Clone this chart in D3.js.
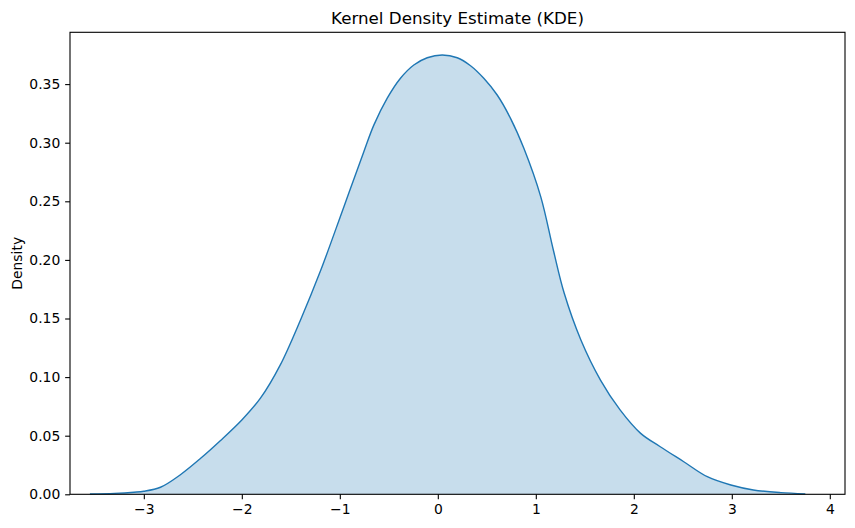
<!DOCTYPE html>
<html><head><meta charset="utf-8">
<script src="https://cdn.jsdelivr.net/npm/d3@7"></script>
<style>body{margin:0;background:#fff}svg{display:block}text{font-family:"DejaVu Sans",sans-serif;fill:#000}</style>
</head><body>
<svg id="c" width="855" height="528"></svg>
<script>
const xValues = [-3.55,-3.3,-3.1,-3.0,-2.83,-2.63,-2.42,-2.22,-2.0,-1.81,-1.61,-1.40,-1.20,-0.96,-0.755,-0.653,-0.516,-0.381,-0.245,-0.108,0.045,0.198,0.334,0.469,0.606,0.742,0.878,1.05,1.18,1.29,1.46,1.66,1.86,2.07,2.27,2.51,2.75,2.99,3.22,3.50,3.75];
const densityValues = [0.0002,0.0008,0.0018,0.0026,0.006,0.0165,0.0307,0.0457,0.0634,0.082,0.110,0.149,0.190,0.245,0.2923,0.315,0.338,0.355,0.3663,0.3725,0.3748,0.3725,0.3657,0.355,0.3407,0.3208,0.2952,0.254,0.208,0.1715,0.1317,0.0975,0.072,0.052,0.0406,0.0278,0.015,0.0079,0.0037,0.0014,0.0004];
const xTicks = [-3,-2,-1,0,1,2,3,4];
const yTicks = [0,0.05,0.10,0.15,0.20,0.25,0.30,0.35];
const titleText = "Kernel Density Estimate (KDE)";
const yLabel = "Density";

const data = xValues.map((x,i)=>({x, y: densityValues[i]}));
const L=70, R=845, T=32.3, B=494.3;
const x = d3.scaleLinear().domain([-3.7533, 4.1551]).range([L,R]);
const y = d3.scaleLinear().domain([0, 0.39420]).range([B,T]);
const svg = d3.select("#c");
const color = "#1f77b4";
const curve = d3.curveCatmullRom.alpha(0.5);

const area = d3.area().x(d=>x(d.x)).y0(y(0)).y1(d=>y(d.y)).curve(curve);
const line = d3.line().x(d=>x(d.x)).y(d=>y(d.y)).curve(curve);
svg.append("path").datum(data).attr("d",area).attr("fill",color).attr("fill-opacity",0.25);
svg.append("path").datum(data).attr("d",line).attr("fill","none").attr("stroke",color).attr("stroke-width",1.4);

const fs = "13.9px";
const xAxis = svg.append("g").attr("transform",`translate(0,${B})`)
  .call(d3.axisBottom(x).tickValues(xTicks).tickFormat(d3.format("d")).tickSizeInner(4.86).tickSizeOuter(0).tickPadding(4.86));
const yAxis = svg.append("g").attr("transform",`translate(${L},0)`)
  .call(d3.axisLeft(y).tickValues(yTicks).tickFormat(d3.format(".2f")).tickSizeInner(4.86).tickSizeOuter(0).tickPadding(4.86));
[xAxis,yAxis].forEach(g=>{
  g.select(".domain").remove();
  g.selectAll(".tick line").attr("stroke","#000").attr("stroke-width",1.1);
  g.selectAll(".tick text").style("font-size",fs).style("font-family","DejaVu Sans").attr("fill","#000");
});
svg.append("rect").attr("x",L).attr("y",T).attr("width",R-L).attr("height",B-T)
  .attr("fill","none").attr("stroke","#000").attr("stroke-width",1.1);

svg.append("text").attr("x",(L+R)/2).attr("y",T-8.3).attr("text-anchor","middle")
  .style("font-size","16.7px").text(titleText);
svg.append("text").attr("transform",`translate(22,${(T+B)/2}) rotate(-90)`).attr("text-anchor","middle")
  .style("font-size",fs).text(yLabel);
</script>
</body></html>
